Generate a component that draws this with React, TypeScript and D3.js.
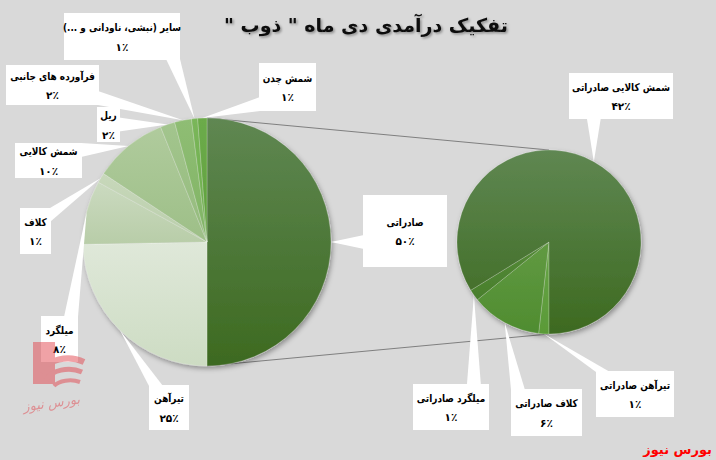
import React from "react";
import * as d3 from "d3";

// chart values (percent of total revenue)
const titleText = 'تفکیک درآمدی دی ماه " ذوب "';
const sourceText = "بورس نیوز";

const mainNames = [
  "صادراتی",
  "تیرآهن",
  "میلگرد",
  "کلاف",
  "شمش کالایی",
  "ریل",
  "فرآورده های جانبی",
  "سایر (نبشی، ناودانی و ...)",
  "شمش چدن",
];
const mainValues = [50, 24.7, 8.3, 1.3, 9.6, 1.9, 2.2, 0.8, 1.2];

const subNames = ["تیرآهن صادراتی", "کلاف صادراتی", "میلگرد صادراتی", "شمش کالایی صادراتی"];
const subValues = [0.9, 6.2, 1.0, 41.9];

// gradient colours, top / bottom of each slice
const mainTop = ["#5f8752", "#dfe8d9", "#cbdac0", "#c8d8bb", "#b0cb9d", "#a3c58e", "#8fbd74", "#7ab65a", "#6cab4a"];
const mainBottom = ["#3d6a20", "#cddcc3", "#b8cda8", "#b9ceaa", "#9dbf87", "#94bb7c", "#80b464", "#6dad4c", "#5fa03d"];
const subTop = ["#68a447", "#619a42", "#558a38", "#5f8752"];
const subBottom = ["#5a9a38", "#4f8c30", "#497f2c", "#3d6a20"];

const W = 716;
const H = 460;
const mainPie = { cx: 207, cy: 242, r: 124 };
const subPie = { cx: 549, cy: 242, r: 92 };

// callout boxes [x, y, w, h]
const mainBoxes = [
  [363, 195, 84, 72],
  [149, 385, 40, 45],
  [41, 316, 37, 46],
  [20, 208, 31, 46],
  [15, 143, 67, 35],
  [97, 107, 23, 35],
  [6, 65, 93, 40],
  [64, 13, 116, 47],
  [259, 63, 57, 48],
];
const subBoxes = [
  [596, 371, 78, 46],
  [511, 389, 71, 47],
  [413, 384, 76, 46],
  [569, 73, 104, 46],
];

const faDigits = (s) => s.replace(/\d/g, (d) => "۰۱۲۳۴۵۶۷۸۹"[+d]);
const pct = (v) => faDigits(String(Math.round(v))) + "٪";

const clamp = (v, a, b) => Math.max(a, Math.min(b, v));

function wedgePath(box, p, half = 7) {
  const [bx, by, bw, bh] = box;
  const mx = bx + bw / 2;
  const my = by + bh / 2;
  const dx = (p[0] - mx) / (bw / 2);
  const dy = (p[1] - my) / (bh / 2);
  let a, b;
  if (Math.abs(dx) > Math.abs(dy)) {
    const x = dx > 0 ? bx + bw - 1 : bx + 1;
    const y = clamp(p[1], by + half, by + bh - half);
    a = [x, y - half];
    b = [x, y + half];
  } else {
    const y = dy > 0 ? by + bh - 1 : by + 1;
    const x = clamp(p[0], bx + half, bx + bw - half);
    a = [x - half, y];
    b = [x + half, y];
  }
  return `M${a[0]},${a[1]}L${p[0]},${p[1]}L${b[0]},${b[1]}Z`;
}

const font = "'DejaVu Sans', sans-serif";

function Callout({ box, anchor, name, value }) {
  const [x, y, w, h] = box;
  const cx = x + w / 2;
  const cy = y + h / 2;
  return (
    <g>
      <path d={wedgePath(box, anchor)} fill="#fff" />
      <rect x={x} y={y} width={w} height={h} fill="#fff" />
      <text
        transform={`translate(${cx},${cy - 9}) scale(0.85,1)`}
        direction="rtl"
        textAnchor="middle"
        dominantBaseline="central"
        fontFamily={font}
        fontWeight="bold"
        fontSize={10.5}
        fill="#000"
      >
        {name}
      </text>
      <text
        x={cx}
        y={cy + 10}
        textAnchor="middle"
        dominantBaseline="central"
        fontFamily={font}
        fontWeight="bold"
        fontSize={10.5}
        fill="#000"
      >
        {pct(value)}
      </text>
    </g>
  );
}

function PieGroup({ id, cfg, values, tops, bottoms, startAngle }) {
  const pie = d3
    .pie()
    .sort(null)
    .value((d) => d)
    .startAngle(startAngle)
    .endAngle(startAngle + 2 * Math.PI);
  const arcs = pie(values);
  const arc = d3.arc().innerRadius(0).outerRadius(cfg.r);
  return (
    <g transform={`translate(${cfg.cx},${cfg.cy})`} filter="url(#pieShadow)">
      <defs>
        {arcs.map((d, i) => (
          <linearGradient key={i} id={`${id}-g${i}`} x1="0" y1="0" x2="0" y2="1">
            <stop offset="0%" stopColor={tops[i]} />
            <stop offset="100%" stopColor={bottoms[i]} />
          </linearGradient>
        ))}
      </defs>
      {arcs.map((d, i) => (
        <path
          key={i}
          d={arc(d)}
          fill={`url(#${id}-g${i})`}
          stroke="#ffffff"
          strokeOpacity={0.35}
          strokeWidth={0.6}
        />
      ))}
    </g>
  );
}

export default function App() {
  const mainArcs = d3.pie().sort(null).value((d) => d)(mainValues);
  const subArcs = d3
    .pie()
    .sort(null)
    .value((d) => d)
    .startAngle(Math.PI)
    .endAngle(3 * Math.PI)(subValues);

  const mainEdge = d3.arc().innerRadius(mainPie.r).outerRadius(mainPie.r);
  const subEdge = d3.arc().innerRadius(subPie.r).outerRadius(subPie.r);

  const mainAnchors = mainArcs.map((d) => {
    const [x, y] = mainEdge.centroid(d);
    return [mainPie.cx + x, mainPie.cy + y];
  });
  const subAnchors = subArcs.map((d) => {
    const [x, y] = subEdge.centroid(d);
    return [subPie.cx + x, subPie.cy + y];
  });

  // split line of the main pie links to top / bottom of the second pie
  const top0 = [mainPie.cx, mainPie.cy - mainPie.r];
  const bot0 = [mainPie.cx, mainPie.cy + mainPie.r];
  const top1 = [subPie.cx, subPie.cy - subPie.r];
  const bot1 = [subPie.cx, subPie.cy + subPie.r];

  return (
    <div style={{ position: "fixed", left: 0, top: 0 }}>
      <svg width={W} height={H} style={{ display: "block" }}>
        <defs>
          <filter id="pieShadow" x="-20%" y="-20%" width="140%" height="140%">
            <feDropShadow dx="1.5" dy="2.5" stdDeviation="2.5" floodColor="#000" floodOpacity="0.35" />
          </filter>
          <filter id="titleShadow" x="-10%" y="-30%" width="120%" height="160%">
            <feDropShadow dx="1.5" dy="1.5" stdDeviation="1" floodColor="#000" floodOpacity="0.35" />
          </filter>
        </defs>
        <rect width={W} height={H} fill="#d9d9d9" />

        <text
          x={366}
          y={25}
          direction="rtl"
          textAnchor="middle"
          dominantBaseline="central"
          fontFamily={font}
          fontWeight="bold"
          fontSize={19}
          fill="#111"
          filter="url(#titleShadow)"
        >
          {titleText}
        </text>

        <line x1={top0[0]} y1={top0[1]} x2={top1[0]} y2={top1[1]} stroke="#7f7f7f" strokeWidth={1} />
        <line x1={bot0[0]} y1={bot0[1]} x2={bot1[0]} y2={bot1[1]} stroke="#7f7f7f" strokeWidth={1} />

        <PieGroup id="main" cfg={mainPie} values={mainValues} tops={mainTop} bottoms={mainBottom} startAngle={0} />
        <PieGroup id="sub" cfg={subPie} values={subValues} tops={subTop} bottoms={subBottom} startAngle={Math.PI} />

        {mainNames.map((n, i) => (
          <Callout key={"m" + i} box={mainBoxes[i]} anchor={mainAnchors[i]} name={n} value={mainValues[i]} />
        ))}
        {subNames.map((n, i) => (
          <Callout key={"s" + i} box={subBoxes[i]} anchor={subAnchors[i]} name={n} value={subValues[i]} />
        ))}

        {/* watermark logo */}
        <g opacity={0.5}>
          <rect x={33} y={342} width={22} height={42} fill="#e2474f" />
          <path d="M40,372 A30,22 0 0 1 84,362" fill="none" stroke="#e2474f" strokeWidth={6} />
          <path d="M46,380 A24,16 0 0 1 82,372" fill="none" stroke="#e2474f" strokeWidth={5} />
          <path d="M54,386 A18,10 0 0 1 80,382" fill="none" stroke="#e2474f" strokeWidth={4} />
          <text
            x={80}
            y={402}
            textAnchor="end"
            dominantBaseline="central"
            fontFamily={font}
            fontStyle="italic"
            fontSize={13}
            fill="#e2474f"
            transform="rotate(-8 58 402)"
          >
            {sourceText}
          </text>
        </g>

        <text
          x={712}
          y={449}
          textAnchor="end"
          dominantBaseline="central"
          fontFamily={font}
          fontWeight="bold"
          fontSize={13}
          fill="#ff0000"
        >
          {sourceText}
        </text>
      </svg>
    </div>
  );
}
